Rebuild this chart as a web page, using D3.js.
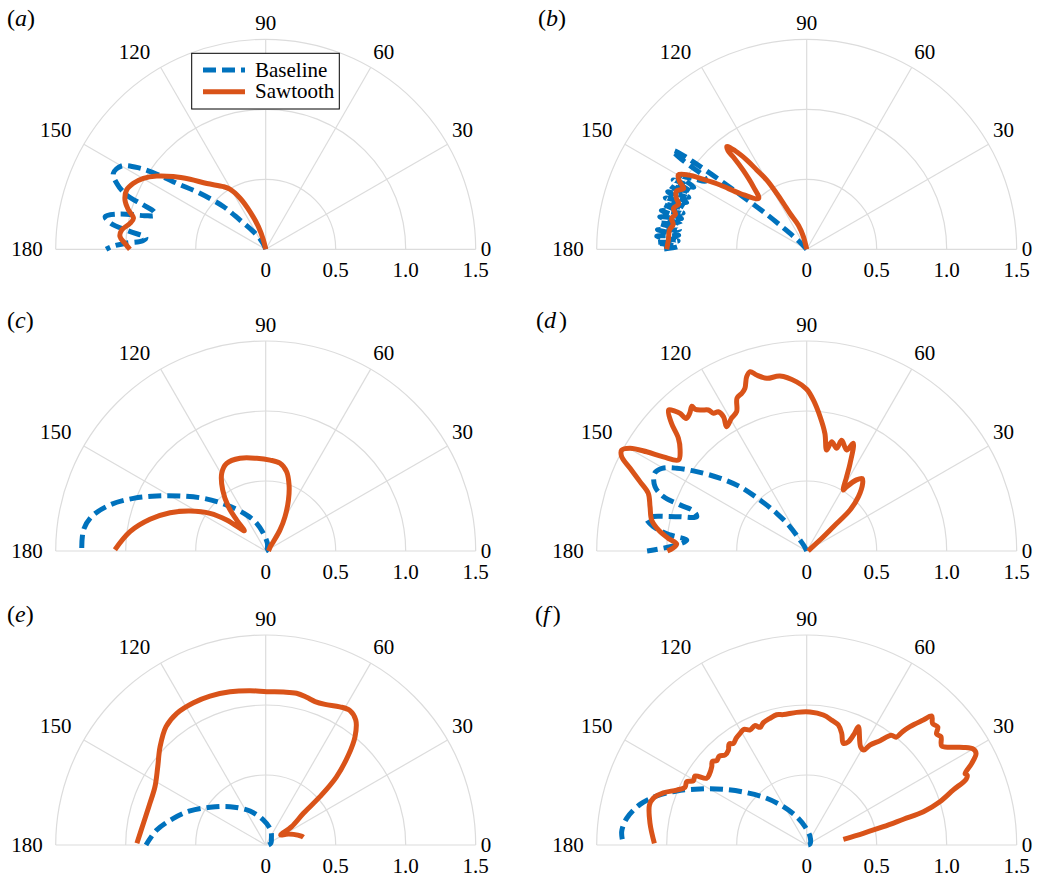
<!DOCTYPE html>
<html>
<head>
<meta charset="utf-8">
<script src="https://cdn.jsdelivr.net/npm/d3@7"></script>
<style>
  body { margin: 0; background: #fff; }
  svg { display: block; font-family: "Liberation Serif", "Times New Roman", serif; }
</style>
</head>
<body>
<div id="chart"></div>
<script>
// angle ticks (deg) and radial ticks
var thetaTicks = [0, 30, 60, 90, 120, 150, 180];
var rTicks = [0.5, 1.0, 1.5];
var rTickLabels = ['0', '0.5', '1.0', '1.5'];
var seriesNames = ['Baseline', 'Sawtooth'];

// [theta (deg), r], in path order
var aBaseline = [[0,0],[100,0],[112,0.03],[118,0.08],[124.8,0.154],[131.3,0.278],[134.7,0.43],[139.6,0.617],
  [143.4,0.79],[144.8,0.9],[147.2,1.07],[150,1.19],[153.5,1.216],[156.1,1.164],[158.7,1.066],[160.1,0.93],
  [161.5,0.84],[163,0.83],[164.5,0.9],[166.5,1.08],[168.5,1.17],[170.5,1.12],[172.5,0.98],[174.5,0.86],
  [176,0.88],[177.5,1.0],[179,1.1],[180,1.14]];
var aSawtooth = [[0,0],[95,0],[104,0.068],[107.9,0.17],[112.6,0.29],[116.7,0.41],[120.8,0.5],[124,0.54],
  [131.8,0.63],[137.2,0.736],[141.8,0.84],[146.1,0.938],[149.9,1.01],[153.5,1.056],[156.9,1.08],[160.7,1.065],
  [164,1.02],[166.8,0.97],[169.2,0.987],[172.4,1.038],[175,1.045],[177.6,1.006],[180,0.97]];

var bBaseline = [[0,0],[128,0],[134,0.08],[137,0.2],[139,0.4],[140.5,0.6],[141.5,0.8],[142.3,1.0],[143,1.15],
  [143.6,1.19],[144.2,1.12],[144.4,1.0],[144.6,0.9],[146,0.87],[148,0.95],[150,1.04],
  [151.25,0.92],[152.5,1.075],[153.75,0.92],[155,1.075],[156.25,0.92],[157.5,1.075],[158.75,0.92],[160,1.075],
  [161.25,0.92],[162.5,1.075],[163.75,0.92],[165,1.075],[166.25,0.92],[167.5,1.075],[168.75,0.92],[170,1.075],
  [171.25,0.92],[172.5,1.075],[173.75,0.92],[175,1.075],[176.25,0.92],[177.5,1.075],[178.75,0.92],[180,1.03]];
var bSawtooth = [[0,0],[98,0],[104.6,0.094],[108.9,0.18],[114.9,0.28],[116.9,0.37],[118.2,0.45],[120,0.57],
  [122.2,0.67],[123.9,0.77],[126,0.87],[127.8,0.93],[128.6,0.9],[128.5,0.84],[128.8,0.725],[130.4,0.59],
  [133.4,0.5],[140,0.62],[143.4,0.77],[145.9,0.89],[147.9,0.998],[149.9,1.06],[151.9,1.03],[153.7,0.98],
  [156,1.02],[158.6,1.0],[160.5,0.97],[162.9,0.996],[165,0.97],[167.1,0.99],[169.5,0.97],[172,0.99],
  [176,0.99],[180,1.0]];

var cBaseline = [[0,0],[40,0.01],[65,0.03],[77.5,0.056],[97.4,0.127],[108,0.208],[117.8,0.29],[130.3,0.43],
  [139.8,0.583],[147.3,0.727],[153.2,0.872],[158.3,1.017],[163.5,1.16],[168.8,1.267],[173.4,1.31],[180,1.314]];
var cSawtooth = [[0,0.02],[30,0.03],[45,0.05],[50.4,0.086],[55.7,0.18],[60.6,0.28],[66,0.4],[70.5,0.5],
  [75.2,0.586],[80.7,0.635],[87.3,0.65],[95.5,0.665],[105.5,0.687],[114,0.685],[119.5,0.638],[125.2,0.533],
  [130.1,0.414],[133.1,0.303],[136.5,0.21],[137.5,0.22],[141.5,0.356],[145.9,0.48],[152.1,0.61],[158.2,0.736],
  [164.7,0.857],[171.9,0.979],[179.5,1.077]];

var dBaseline = [[0,0],[110,0],[117,0.04],[121.3,0.092],[124.5,0.21],[128.5,0.344],[132.5,0.494],[136,0.66],
  [140,0.81],[144.2,0.969],[147.5,1.1],[150.3,1.19],[153,1.22],[157,1.177],[159.2,1.095],[160,0.963],
  [160.5,0.86],[162.7,0.823],[165.2,0.96],[168.4,1.167],[171,1.11],[173.3,0.983],[174.8,0.86],[177.4,0.93],
  [180,1.14]];
var dSawtooth = [[0,0.01],[30,0.03],[39.6,0.123],[42.3,0.258],[43.4,0.426],[46.4,0.536],[50.4,0.627],
  [52.5,0.652],[55,0.62],[58.1,0.54],[59,0.508],[61.7,0.6],[63.7,0.7],[66.6,0.838],[68.4,0.776],[72.5,0.83],
  [73.7,0.764],[77.1,0.8],[78.8,0.735],[81.2,0.85],[84.3,0.964],[87.5,1.08],[90,1.155],[93.4,1.21],
  [98.7,1.264],[103,1.266],[105.9,1.307],[107.5,1.343],[109,1.317],[110.8,1.243],[112.4,1.218],[114.5,1.2],
  [116.7,1.114],[119.5,1.09],[122.8,1.056],[121.8,1.127],[122.4,1.178],[124.1,1.188],[124.9,1.228],
  [126.7,1.256],[128.2,1.289],[128.4,1.32],[130.4,1.29],[132.3,1.28],[132.6,1.336],[133.3,1.372],[134.4,1.41],
  [136.6,1.33],[138.7,1.22],[141.4,1.157],[144.6,1.123],[146.7,1.225],[148.2,1.345],[149.8,1.46],[151.4,1.505],
  [153,1.483],[154.9,1.393],[157.4,1.29],[160,1.204],[164.2,1.163],[168.7,1.129],[171.9,1.07],[174.8,0.992],
  [176.9,0.93],[178.8,0.957],[180,0.995]];

var eBaseline = [[0,0.02],[20,0.04],[49.6,0.063],[71.6,0.113],[95.3,0.179],[114.8,0.267],[132.9,0.374],
  [145.9,0.48],[155.8,0.593],[163.9,0.686],[172.2,0.786],[180,0.855]];
var eSawtooth = [[11.5,0.275],[14,0.262],[21,0.212],[28,0.165],[33.7,0.129],[35.2,0.227],[40,0.352],
  [41.7,0.519],[43.9,0.7],[47.4,0.873],[50.5,1.003],[54.2,1.1],[57.9,1.133],[61.8,1.12],[67.1,1.09],[71,1.083],
  [74.5,1.095],[78.5,1.106],[83.4,1.1],[89.6,1.095],[95.8,1.108],[103.1,1.124],[110.5,1.136],[116.9,1.14],
  [124,1.135],[130.1,1.105],[137.1,1.03],[144,0.953],[152.2,0.894],[160.2,0.879],[169.9,0.887],[179.2,0.92]];

var fBaseline = [[0,0.01],[16.9,0.025],[68,0.064],[95.3,0.131],[109.5,0.214],[121.3,0.32],[130.6,0.44],
  [138.9,0.569],[146.2,0.716],[152.3,0.861],[157.4,1.005],[161.9,1.127],[166.3,1.225],[171.6,1.3],
  [175.9,1.325],[179.7,1.31]];
var fSawtooth = [[8.8,0.265],[11.7,0.413],[13.4,0.563],[14.9,0.715],[15.9,0.867],[18,1.0],[20.6,1.119],
  [22.4,1.231],[23.5,1.25],[24.2,1.24],[26.3,1.315],[28.4,1.375],[29.9,1.373],[31.9,1.319],[34.3,1.239],
  [36.3,1.196],[38.9,1.232],[40.5,1.22],[42,1.26],[44,1.25],[45.9,1.283],[47,1.221],[48.9,1.122],[49.8,1.06],
  [50.3,1.0],[52.4,0.99],[54.9,0.911],[57.7,0.845],[58.9,0.792],[61.2,0.8],[66.4,0.922],[66.8,0.87],[68,0.796],
  [70.2,0.772],[72.6,0.836],[75.2,0.886],[78.7,0.91],[82.7,0.936],[88.6,0.95],[94.3,0.95],[100.1,0.946],
  [103,0.955],[106.2,0.942],[109.5,0.927],[111.6,0.904],[113.5,0.93],[116.2,0.916],[118.5,0.94],[120.8,0.929],
  [123.5,0.914],[125.8,0.895],[127.5,0.91],[129.5,0.879],[132.2,0.868],[134.5,0.89],[136.9,0.881],
  [138.5,0.9],[140.5,0.879],[143.9,0.86],[146.3,0.859],[148.3,0.938],[150.5,0.93],[152.2,0.969],[154.6,0.962],
  [157.1,1.008],[160,1.09],[163,1.145],[165.7,1.159],[172.1,1.13],[179.4,1.088]];

var panels = [
  {letter: 'a', cx: 265.7, cy: 249.3, lx: 7,   baseline: aBaseline, sawtooth: aSawtooth, legend: true},
  {letter: 'b', cx: 806.7, cy: 249.3, lx: 538, baseline: bBaseline, sawtooth: bSawtooth},
  {letter: 'c', cx: 265.7, cy: 551,   lx: 7,   baseline: cBaseline, sawtooth: cSawtooth},
  {letter: 'd', cx: 806.7, cy: 551,   lx: 536, baseline: dBaseline, sawtooth: dSawtooth},
  {letter: 'e', cx: 265.7, cy: 845,   lx: 7,   baseline: eBaseline, sawtooth: eSawtooth},
  {letter: 'f', cx: 806.7, cy: 845,   lx: 535, baseline: fBaseline, sawtooth: fSawtooth}
];

var blue = '#0072BD', orange = '#D95319', gridColor = '#dcdcdc';
var lineW = 5, dash = '13,6';

var width = 1041, height = 879;
var svg = d3.select('#chart').append('svg')
  .attr('width', width).attr('height', height);

var r = d3.scaleLinear().domain([0, 1.5]).range([0, 210]);
function ang(t) { return (90 - t) * Math.PI / 180; }  // lineRadial angle
function rad(t) { return t * Math.PI / 180; }

var curve = d3.lineRadial()
  .angle(function(d) { return ang(d[0]); })
  .radius(function(d) { return r(d[1]); })
  .curve(d3.curveCatmullRom.alpha(0.5));

var labelR = 215;

panels.forEach(function(p) {
  var g = svg.append('g').attr('transform', 'translate(' + p.cx + ',' + p.cy + ')');

  // grid arcs
  rTicks.forEach(function(v) {
    g.append('path')
      .attr('d', d3.arc().innerRadius(r(v)).outerRadius(r(v))
        .startAngle(-Math.PI / 2).endAngle(Math.PI / 2)())
      .attr('fill', 'none').attr('stroke', gridColor).attr('stroke-width', 1.2);
  });
  // spokes
  thetaTicks.forEach(function(t) {
    g.append('line')
      .attr('x1', 0).attr('y1', 0)
      .attr('x2', r(1.5) * Math.cos(rad(t))).attr('y2', -r(1.5) * Math.sin(rad(t)))
      .attr('stroke', gridColor).attr('stroke-width', 1.2);
  });

  // angle labels, aligned away from the arc like matlab does
  thetaTicks.forEach(function(t) {
    var x = labelR * Math.cos(rad(t));
    var y = -labelR * Math.sin(rad(t));
    var anchor = t < 90 ? 'start' : (t > 90 ? 'end' : 'middle');
    if (t > 90) x -= 8;
    var txt = g.append('text')
      .attr('text-anchor', anchor)
      .style('font-size', '21px')
      .text(t);
    if (t === 0 || t === 180) {
      txt.attr('x', x).attr('y', 0).attr('dy', '0.33em');
    } else {
      txt.attr('x', x).attr('y', y - 4.5);
    }
  });

  // radial labels
  [0].concat(rTicks).forEach(function(v, i) {
    g.append('text')
      .attr('x', r(v)).attr('y', 28)
      .attr('text-anchor', 'middle')
      .style('font-size', '21px')
      .text(rTickLabels[i]);
  });

  // curves
  g.append('path')
    .attr('d', curve(p.baseline))
    .attr('fill', 'none').attr('stroke', blue)
    .attr('stroke-width', lineW).attr('stroke-dasharray', dash);
  g.append('path')
    .attr('d', curve(p.sawtooth))
    .attr('fill', 'none').attr('stroke', orange)
    .attr('stroke-width', lineW).attr('stroke-linejoin', 'round');

  // panel label
  var lab = svg.append('text')
    .attr('x', p.lx).attr('y', p.cy - 223.5)
    .style('font-size', '24px');
  lab.append('tspan').text('(');
  lab.append('tspan').style('font-style', 'italic').text(p.letter);
  lab.append('tspan').attr('dx', (p.letter === 'd' || p.letter === 'f') ? 3 : 0).text(')');

  if (p.legend) {
    var lg = svg.append('g');
    lg.append('rect')
      .attr('x', 191.7).attr('y', 53.3).attr('width', 147.6).attr('height', 55.7)
      .attr('fill', '#fff').attr('stroke', '#000').attr('stroke-width', 1);
    var colors = [blue, orange];
    seriesNames.forEach(function(name, i) {
      var y = 70 + i * 21.7;
      lg.append('line')
        .attr('x1', 203).attr('x2', 245).attr('y1', y).attr('y2', y)
        .attr('stroke', colors[i]).attr('stroke-width', lineW)
        .attr('stroke-dasharray', i === 0 ? dash : null);
      lg.append('text')
        .attr('x', 255).attr('y', y + 6.5)
        .style('font-size', '21px')
        .text(name);
    });
  }
});
</script>
</body>
</html>
